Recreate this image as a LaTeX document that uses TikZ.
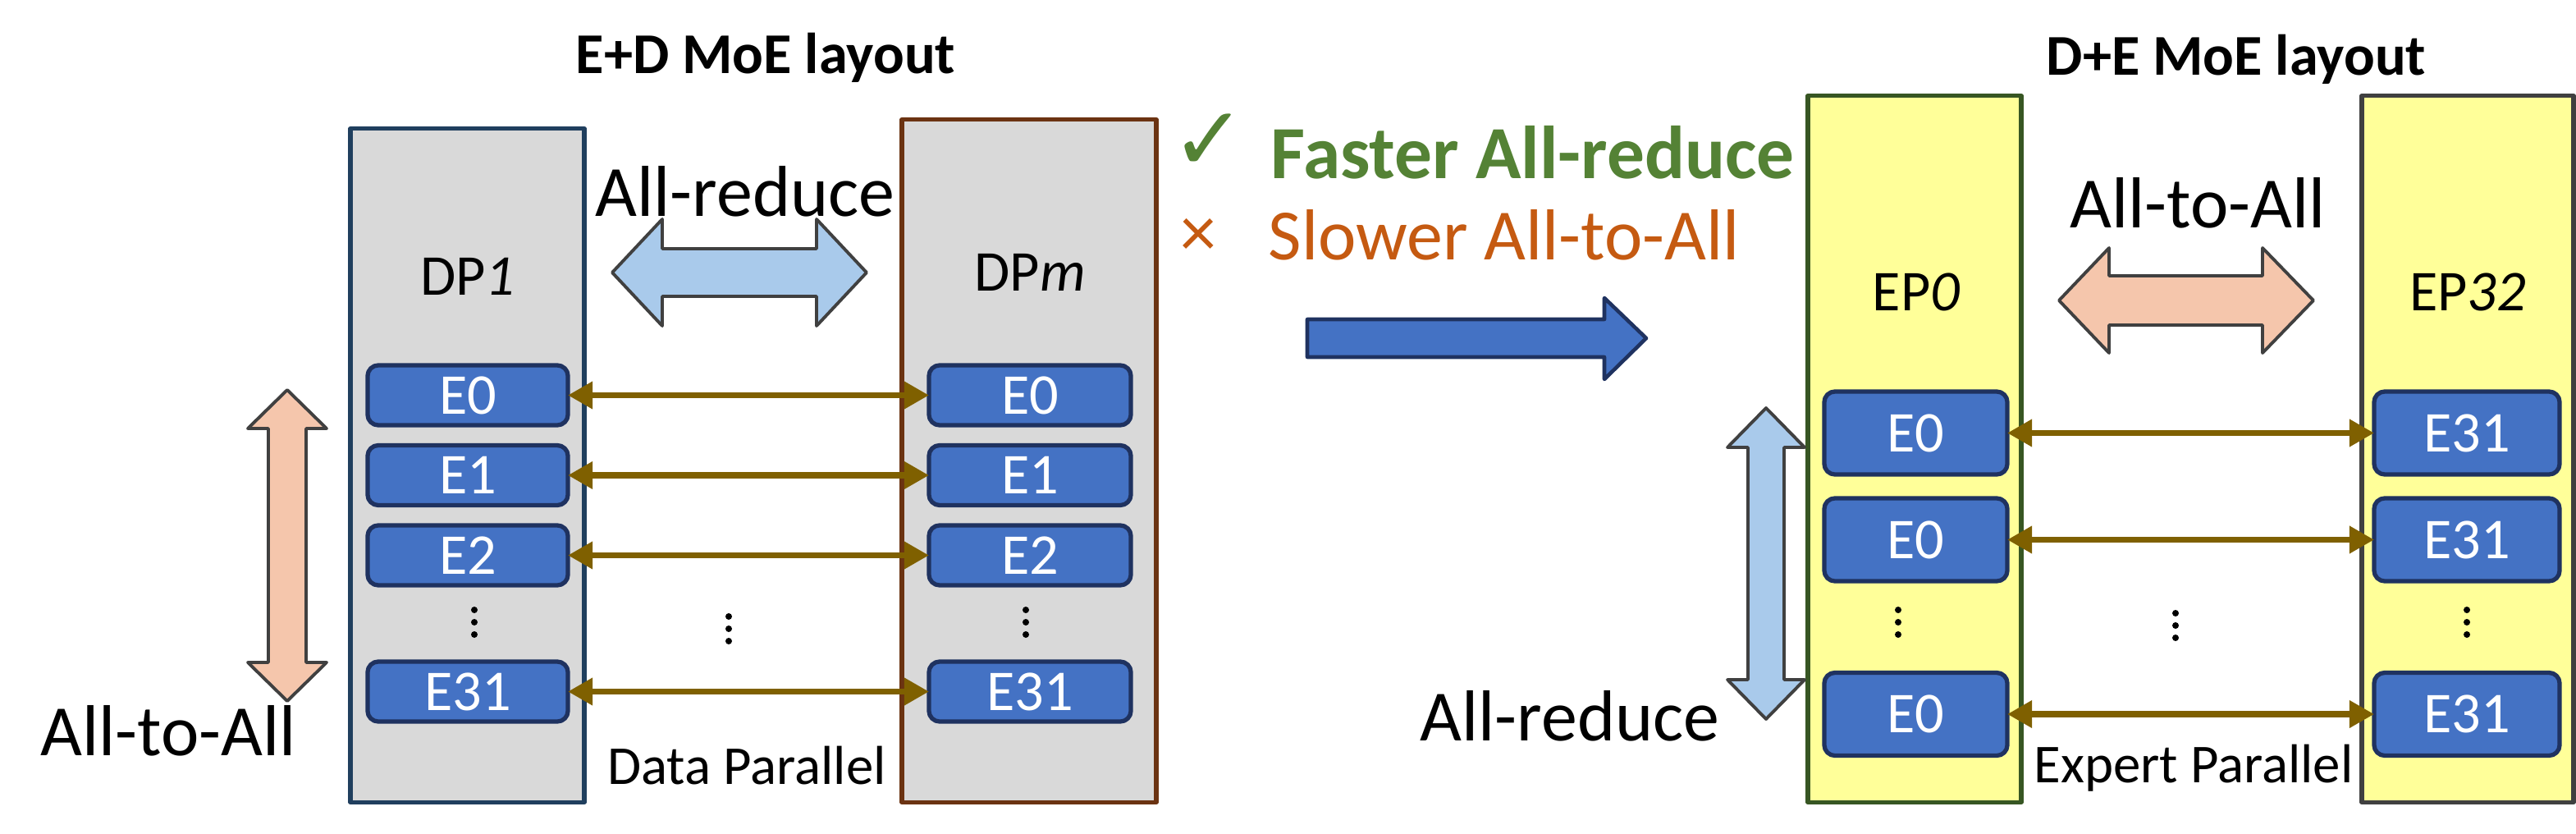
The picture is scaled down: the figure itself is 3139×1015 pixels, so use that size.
\documentclass[tikz,border=0pt]{standalone}
\usepackage{fontspec}
\setmainfont{Carlito}
\newfontfamily\symfont{DejaVu Sans}
\usetikzlibrary{arrows.meta}
\definecolor{dpgray}{HTML}{D9D9D9}
\definecolor{dpAline}{HTML}{203F5E}
\definecolor{dpMline}{HTML}{6B3312}
\definecolor{epfill}{HTML}{FFFF99}
\definecolor{epAline}{HTML}{375623}
\definecolor{epBline}{HTML}{404040}
\definecolor{expfill}{HTML}{4472C4}
\definecolor{expline}{HTML}{1F3260}
\definecolor{linkcol}{HTML}{7F6000}
\definecolor{arblue}{HTML}{A9CAEB}
\definecolor{arpeach}{HTML}{F5C6AC}
\definecolor{okgreen}{HTML}{548235}
\definecolor{badorange}{HTML}{C55A11}

\begin{document}
\begin{tikzpicture}[x=0.01cm,y=-0.01cm,line join=round,
    devbox/.style={draw,line width=1.5pt,inner sep=0pt,outer sep=0pt},
    expert/.style={draw=expline,fill=expfill,line width=1.5pt,rounded corners=0.13cm,
      inner sep=0pt,outer sep=0pt,text=white,font=\fontsize{20}{20}\selectfont},
    link/.style={linkcol,line width=2pt,{Triangle[length=0.3cm,width=0.32cm]}-{Triangle[length=0.3cm,width=0.32cm]}},
    blockarrow/.style={draw=epBline,line width=1.1pt},
    lbl/.style={anchor=base,inner sep=0pt,font=\fontsize{25}{25}\selectfont},
    title/.style={anchor=base,inner sep=0pt,font=\fontsize{20}{20}\selectfont\bfseries},
    small/.style={anchor=base,inner sep=0pt,font=\fontsize{19}{19}\selectfont}]

  \useasboundingbox (0,0) rectangle (3139,1015);

  % ---- E+D layout
  \node[title] (titleA) at (933,90) {E+D MoE layout};

  \node[devbox,draw=dpAline,fill=dpgray,minimum width=2.85cm,minimum height=8.2cm] (dpA) at (569.5,567) {};
  \node[devbox,draw=dpMline,fill=dpgray,minimum width=3.1cm,minimum height=8.31cm] (dpM) at (1254,561.5) {};
  \node[lbl,font=\fontsize{20}{20}\selectfont] (dpAlbl) at (570,359) {DP\textit{1}};
  \node[lbl,font=\fontsize{20}{20}\selectfont] (dpMlbl) at (1255,354) {DP\textit{m}};

  \foreach \n/\y in {0/481.5,1/579,2/676.5,31/842.5}{
    \node[expert,minimum width=2.44cm,minimum height=0.73cm] (eA\n) at (570,\y) {E\n};
    \node[expert,minimum width=2.46cm,minimum height=0.73cm] (eM\n) at (1255,\y) {E\n};
    \draw[link] (eA\n) -- (eM\n);
  }
  \foreach \x/\y in {578/743,888/751,1250/743}
    \foreach \d in {0,15,30}
      \fill (\x,\y+\d) circle (0.04cm);

  \draw[blockarrow,fill=arblue] (746,332) -- (807,267) -- (807,303) -- (995,303) -- (995,267)
    -- (1056,332) -- (995,397) -- (995,361) -- (807,361) -- (807,397) -- cycle;
  \node[lbl] (arA) at (908,263) {All-reduce};

  \draw[blockarrow,fill=arpeach] (350,475) -- (398,522) -- (373,522) -- (373,807) -- (398,807)
    -- (350,854) -- (302,807) -- (327,807) -- (327,522) -- (302,522) -- cycle;
  \node[lbl] (aaA) at (205,920) {All-to-All};
  \node[small] (dpar) at (910,955) {Data Parallel};

  % ---- middle
  \node[anchor=base,inner sep=0pt,text=okgreen,font=\symfont\fontsize{31}{31}\selectfont] (chk) at (1473,207) {✓};
  \node[anchor=base west,inner sep=0pt,text=okgreen,font=\fontsize{26}{26}\selectfont\bfseries] (fast) at (1548,217) {Faster All-reduce};
  \node[anchor=base,inner sep=0pt,text=badorange,font=\fontsize{25}{25}\selectfont] (crs) at (1460,312) {×};
  \node[anchor=base west,inner sep=0pt,text=badorange,font=\fontsize{25}{25}\selectfont] (slow) at (1545,316) {Slower All-to-All};
  \draw[draw=expline,fill=expfill,line width=1.3pt] (1593,389) -- (1955,389) -- (1955,363)
    -- (2006,412) -- (1955,462) -- (1955,435) -- (1593,435) -- cycle;

  % ---- D+E layout
  \node[title] (titleB) at (2725,91) {D+E MoE layout};

  \node[devbox,draw=epAline,fill=epfill,minimum width=2.6cm,minimum height=8.6cm] (epA) at (2333,547) {};
  \node[devbox,draw=epBline,fill=epfill,minimum width=2.58cm,minimum height=8.6cm] (epB) at (3007,547) {};
  \node[lbl,font=\fontsize{20}{20}\selectfont] (epAlbl) at (2335,378) {EP\textit{0}};
  \node[lbl,font=\fontsize{20}{20}\selectfont] (epBlbl) at (3007,378) {EP\textit{32}};

  \foreach \i/\y in {1/527.5,2/657.5,3/870}{
    \node[expert,minimum width=2.23cm,minimum height=1.01cm] (eP\i) at (2334.5,\y) {E0};
    \node[expert,minimum width=2.26cm,minimum height=1.01cm] (eQ\i) at (3006,\y) {E31};
    \draw[link] (eP\i) -- (eQ\i);
  }
  \foreach \x/\y in {2313/743,2651/747,3006/743}
    \foreach \d in {0,15,30}
      \fill (\x,\y+\d) circle (0.04cm);

  \draw[blockarrow,fill=arpeach] (2509,366) -- (2570,302) -- (2570,336) -- (2757,336) -- (2757,302)
    -- (2819,366) -- (2757,430) -- (2757,396) -- (2570,396) -- (2570,430) -- cycle;
  \node[lbl] (aaB) at (2678,277) {All-to-All};

  \draw[blockarrow,fill=arblue] (2152,497) -- (2199,545) -- (2174,545) -- (2174,828) -- (2199,828)
    -- (2152,876) -- (2105,828) -- (2130,828) -- (2130,545) -- (2105,545) -- cycle;
  \node[lbl] (arB) at (1913,902) {All-reduce};
  \node[small] (epar) at (2673,953) {Expert Parallel};

\end{tikzpicture}
\end{document}
